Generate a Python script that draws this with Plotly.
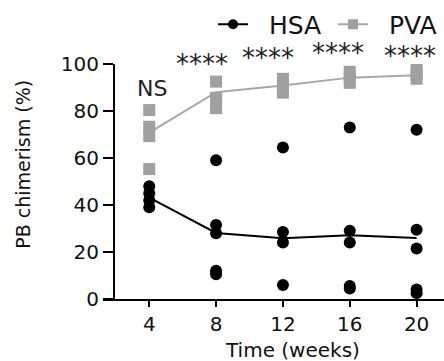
import plotly.graph_objects as go

weeks = [4, 8, 12, 16, 20]
tick_labels = ["4", "8", "12", "16", "20"]

hsa_points = {
    4: [48, 45, 42, 39],
    8: [59, 31.5, 28, 12, 10.5],
    12: [64.5, 28.5, 24, 6],
    16: [73, 29, 24, 5.5, 4.5],
    20: [72, 29.5, 21.5, 4, 2.5],
}
pva_points = {
    4: [80.4, 73.3, 69.3, 55.3],
    8: [92.5, 85.6, 83.4, 81.2],
    12: [93.7, 90.8, 87.8],
    16: [96.7, 94.3, 92.0],
    20: [97.7, 95.7, 93.7],
}
hsa_median = [43.1, 28.1, 25.8, 27.1, 26.0]
pva_median = [70.8, 88.0, 90.8, 94.2, 95.2]

sig_labels = ["NS", "****", "****", "****", "****"]
sig_x = [4.15, 7.15, 11.1, 15.3, 19.6]
sig_y = [89.4, 100.0, 102.5, 104.5, 103.5]

Y_MAX = 100

FONT = "DejaVu Sans"
HSA_COLOR = "#000000"
PVA_COLOR = "#a0a0a0"
PVA_LINE = "#a8a8a8"
NBSP = "\u00a0"


def flatten(d):
    xs, ys = [], []
    for k, vals in d.items():
        for v in vals:
            xs.append(k)
            ys.append(v)
    return xs, ys


fig = go.Figure()

hx, hy = flatten(hsa_points)
px_, py_ = flatten(pva_points)

fig.add_trace(go.Scatter(x=weeks, y=pva_median, mode="lines",
                         line=dict(color=PVA_LINE, width=2), showlegend=False))
fig.add_trace(go.Scatter(x=px_, y=py_, mode="markers",
                         marker=dict(symbol="square", size=12, color=PVA_COLOR),
                         showlegend=False))
fig.add_trace(go.Scatter(x=weeks, y=hsa_median, mode="lines",
                         line=dict(color=HSA_COLOR, width=2), showlegend=False))
fig.add_trace(go.Scatter(x=hx, y=hy, mode="markers",
                         marker=dict(symbol="circle", size=12, color=HSA_COLOR),
                         showlegend=False))

# legend entries
fig.add_trace(go.Scatter(x=[None], y=[None], mode="lines+markers", name=NBSP * 2 + "HSA",
                         line=dict(color=HSA_COLOR, width=2),
                         marker=dict(symbol="circle", size=10, color=HSA_COLOR)))
fig.add_trace(go.Scatter(x=[None], y=[None], mode="lines+markers", name=NBSP * 2 + "PVA",
                         line=dict(color=PVA_LINE, width=2),
                         marker=dict(symbol="square", size=10, color=PVA_COLOR)))

# significance annotations (y domain so labels above the range still show)
for lab, sx, sy in zip(sig_labels, sig_x, sig_y):
    fig.add_annotation(x=sx, y=sy / Y_MAX, xref="x", yref="y domain", text=lab,
                       showarrow=False,
                       font=dict(family=FONT, size=22 if lab == "NS" else 26,
                                 color="#222222"),
                       xanchor="center", yanchor="middle")

# axis titles as annotations
fig.add_annotation(x=12.55, y=-0.215, xref="x", yref="paper", text="Time (weeks)",
                   showarrow=False, font=dict(family=FONT, size=20, color="#111111"),
                   xanchor="center", yanchor="middle")
fig.add_annotation(x=-0.28, y=0.575, xref="paper", yref="y domain",
                   text="PB chimerism (%)",
                   showarrow=False, textangle=-90,
                   font=dict(family=FONT, size=19, color="#111111"),
                   xanchor="center", yanchor="middle")

# x axis line extending left of y axis
fig.add_shape(type="line", xref="paper", yref="paper", x0=-12 / 329, x1=1,
              y0=-1 / 235, y1=-1 / 235, line=dict(color="#000000", width=2))

fig.update_layout(
    width=444, height=361,
    margin=dict(l=115, r=0, t=64, b=62, pad=0, autoexpand=False),
    paper_bgcolor="white", plot_bgcolor="white",
    font=dict(family=FONT, size=19, color="#111111"),
    legend=dict(orientation="h", x=0.298, y=1.168, xanchor="left", yanchor="middle",
                font=dict(family=FONT, size=25, color="#111111"),
                itemwidth=30, entrywidth=75, tracegroupgap=0,
                bgcolor="rgba(0,0,0,0)"),
    xaxis=dict(range=[1.95, 21.64], tickmode="array", tickvals=weeks,
               ticktext=tick_labels, ticks="outside", ticklen=7, tickwidth=2,
               tickcolor="#000000", showline=False, showgrid=False, zeroline=False,
               tickfont=dict(family=FONT, size=20, color="#111111")),
    yaxis=dict(range=[0, Y_MAX], tickvals=[0, 20, 40, 60, 80, 100],
               ticks="outside", ticklen=10, tickwidth=2, tickcolor="#000000",
               showline=True, linecolor="#000000", linewidth=2,
               showgrid=False, zeroline=False, ticksuffix=NBSP,
               tickfont=dict(family=FONT, size=20, color="#111111")),
)

fig.write_html("out.html", config={"displayModeBar": False},
               post_script="document.body.style.margin='0';document.body.style.overflow='hidden';")
